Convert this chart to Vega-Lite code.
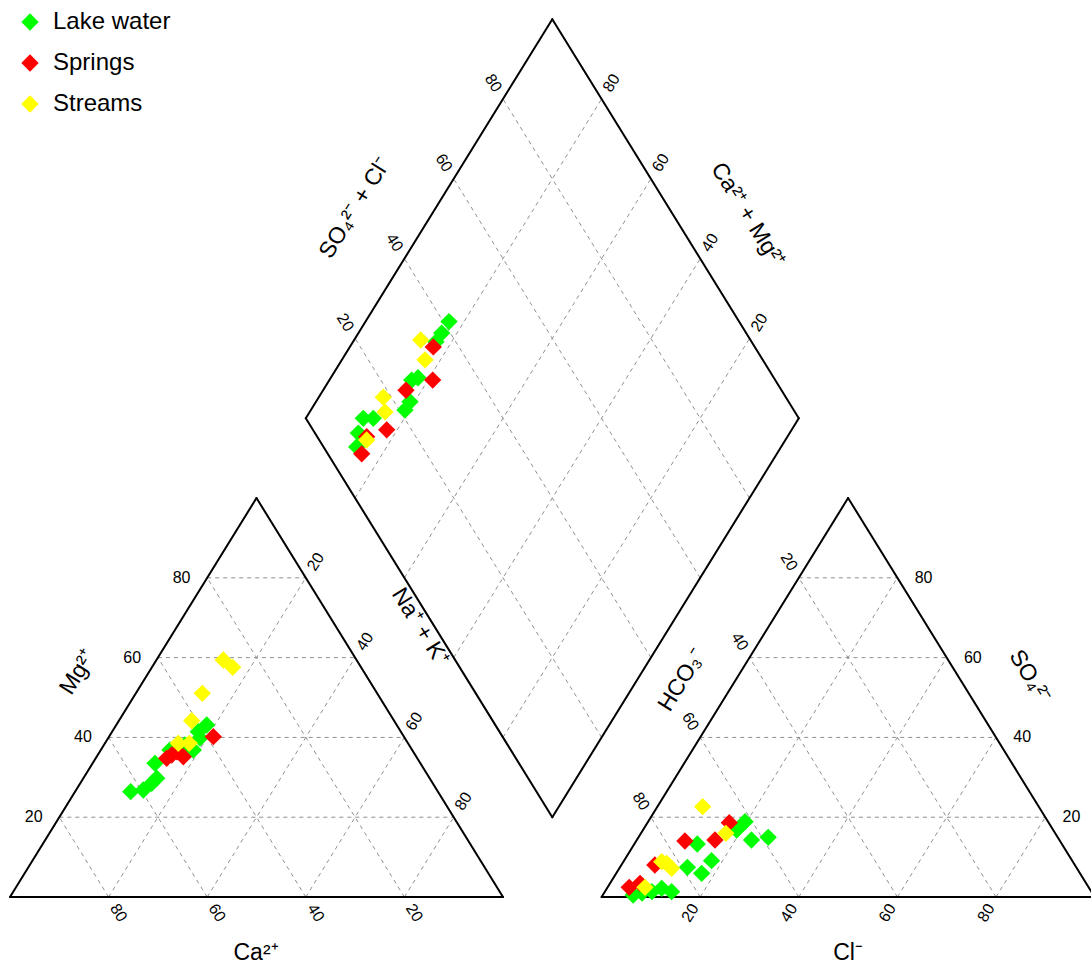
{
  "$schema": "https://vega.github.io/schema/vega-lite/v6.json",
  "width": 1091,
  "height": 968,
  "autosize": "none",
  "padding": 0,
  "background": "white",
  "config": {"view": {"stroke": null}, "font": "Liberation Sans"},
  "datasets": {
    "frame": [
      {"shape": "cation", "x": 0, "y": 0, "x2": 100, "y2": 0},
      {"shape": "cation", "x": 0, "y": 0, "x2": 50, "y2": 86.603},
      {"shape": "cation", "x": 100, "y": 0, "x2": 50, "y2": 86.603},
      {"shape": "anion", "x": 120, "y": 0, "x2": 220, "y2": 0},
      {"shape": "anion", "x": 120, "y": 0, "x2": 170, "y2": 86.603},
      {"shape": "anion", "x": 220, "y": 0, "x2": 170, "y2": 86.603},
      {"shape": "diamond", "x": 110, "y": 17.32, "x2": 60, "y2": 103.92},
      {"shape": "diamond", "x": 60, "y": 103.92, "x2": 110, "y2": 190.53},
      {"shape": "diamond", "x": 110, "y": 190.53, "x2": 160, "y2": 103.92},
      {"shape": "diamond", "x": 160, "y": 103.92, "x2": 110, "y2": 17.32}
    ],
    "grid": [
      {"family": "Mg", "x": 10, "y": 17.32, "x2": 90, "y2": 17.32},
      {"family": "Mg", "x": 20, "y": 34.64, "x2": 80, "y2": 34.64},
      {"family": "Mg", "x": 30, "y": 51.96, "x2": 70, "y2": 51.96},
      {"family": "Mg", "x": 40, "y": 69.28, "x2": 60, "y2": 69.28},
      {"family": "Ca", "x": 80, "y": 0, "x2": 40, "y2": 69.28},
      {"family": "Ca", "x": 60, "y": 0, "x2": 30, "y2": 51.96},
      {"family": "Ca", "x": 40, "y": 0, "x2": 20, "y2": 34.64},
      {"family": "Ca", "x": 20, "y": 0, "x2": 10, "y2": 17.32},
      {"family": "NaK", "x": 20, "y": 0, "x2": 60, "y2": 69.28},
      {"family": "NaK", "x": 40, "y": 0, "x2": 70, "y2": 51.96},
      {"family": "NaK", "x": 60, "y": 0, "x2": 80, "y2": 34.64},
      {"family": "NaK", "x": 80, "y": 0, "x2": 90, "y2": 17.32},
      {"family": "SO4", "x": 130, "y": 17.32, "x2": 210, "y2": 17.32},
      {"family": "SO4", "x": 140, "y": 34.64, "x2": 200, "y2": 34.64},
      {"family": "SO4", "x": 150, "y": 51.96, "x2": 190, "y2": 51.96},
      {"family": "SO4", "x": 160, "y": 69.28, "x2": 180, "y2": 69.28},
      {"family": "Cl", "x": 140, "y": 0, "x2": 180, "y2": 69.28},
      {"family": "Cl", "x": 160, "y": 0, "x2": 190, "y2": 51.96},
      {"family": "Cl", "x": 180, "y": 0, "x2": 200, "y2": 34.64},
      {"family": "Cl", "x": 200, "y": 0, "x2": 210, "y2": 17.32},
      {"family": "HCO3", "x": 200, "y": 0, "x2": 160, "y2": 69.28},
      {"family": "HCO3", "x": 180, "y": 0, "x2": 150, "y2": 51.96},
      {"family": "HCO3", "x": 160, "y": 0, "x2": 140, "y2": 34.64},
      {"family": "HCO3", "x": 140, "y": 0, "x2": 130, "y2": 17.32},
      {"family": "SO4Cl", "x": 120, "y": 34.64, "x2": 70, "y2": 121.24},
      {"family": "SO4Cl", "x": 130, "y": 51.96, "x2": 80, "y2": 138.56},
      {"family": "SO4Cl", "x": 140, "y": 69.28, "x2": 90, "y2": 155.88},
      {"family": "SO4Cl", "x": 150, "y": 86.6, "x2": 100, "y2": 173.2},
      {"family": "CaMg", "x": 100, "y": 34.64, "x2": 150, "y2": 121.24},
      {"family": "CaMg", "x": 90, "y": 51.96, "x2": 140, "y2": 138.56},
      {"family": "CaMg", "x": 80, "y": 69.28, "x2": 130, "y2": 155.88},
      {"family": "CaMg", "x": 70, "y": 86.6, "x2": 120, "y2": 173.2}
    ],
    "labels": [
      {"kind": "tick", "axis": "Ca", "label": "80", "x": 22, "y": -3.46},
      {"kind": "tick", "axis": "Ca", "label": "60", "x": 42, "y": -3.46},
      {"kind": "tick", "axis": "Ca", "label": "40", "x": 62, "y": -3.46},
      {"kind": "tick", "axis": "Ca", "label": "20", "x": 82, "y": -3.46},
      {"kind": "tick", "axis": "Mg", "label": "80", "x": 34.8, "y": 69.28},
      {"kind": "tick", "axis": "Mg", "label": "60", "x": 24.8, "y": 51.96},
      {"kind": "tick", "axis": "Mg", "label": "40", "x": 14.8, "y": 34.64},
      {"kind": "tick", "axis": "Mg", "label": "20", "x": 4.8, "y": 17.32},
      {"kind": "tick", "axis": "NaK", "label": "20", "x": 62, "y": 72.74},
      {"kind": "tick", "axis": "NaK", "label": "40", "x": 72, "y": 55.42},
      {"kind": "tick", "axis": "NaK", "label": "60", "x": 82, "y": 38.1},
      {"kind": "tick", "axis": "NaK", "label": "80", "x": 92, "y": 20.78},
      {"kind": "tick", "axis": "Cl", "label": "20", "x": 138, "y": -3.46},
      {"kind": "tick", "axis": "Cl", "label": "40", "x": 158, "y": -3.46},
      {"kind": "tick", "axis": "Cl", "label": "60", "x": 178, "y": -3.46},
      {"kind": "tick", "axis": "Cl", "label": "80", "x": 198, "y": -3.46},
      {"kind": "tick", "axis": "SO4", "label": "80", "x": 185.3, "y": 69.28},
      {"kind": "tick", "axis": "SO4", "label": "60", "x": 195.3, "y": 51.96},
      {"kind": "tick", "axis": "SO4", "label": "40", "x": 205.3, "y": 34.64},
      {"kind": "tick", "axis": "SO4", "label": "20", "x": 215.3, "y": 17.32},
      {"kind": "tick", "axis": "HCO3", "label": "20", "x": 158, "y": 72.74},
      {"kind": "tick", "axis": "HCO3", "label": "40", "x": 148, "y": 55.42},
      {"kind": "tick", "axis": "HCO3", "label": "60", "x": 138, "y": 38.1},
      {"kind": "tick", "axis": "HCO3", "label": "80", "x": 128, "y": 20.78},
      {"kind": "tick", "axis": "SO4Cl", "label": "20", "x": 68, "y": 124.7},
      {"kind": "tick", "axis": "SO4Cl", "label": "40", "x": 78, "y": 142.02},
      {"kind": "tick", "axis": "SO4Cl", "label": "60", "x": 88, "y": 159.34},
      {"kind": "tick", "axis": "SO4Cl", "label": "80", "x": 98, "y": 176.66},
      {"kind": "tick", "axis": "CaMg", "label": "20", "x": 152, "y": 124.7},
      {"kind": "tick", "axis": "CaMg", "label": "40", "x": 142, "y": 142.02},
      {"kind": "tick", "axis": "CaMg", "label": "60", "x": 132, "y": 159.34},
      {"kind": "tick", "axis": "CaMg", "label": "80", "x": 122, "y": 176.66},
      {"kind": "title", "axis": "Mg", "label": "Mg²⁺", "x": 13.8, "y": 48.8},
      {"kind": "title", "axis": "Ca", "label": "Ca²⁺", "x": 49.9, "y": -12.2},
      {"kind": "title", "axis": "NaK", "label": "Na⁺ + K⁺", "x": 83.2, "y": 58.6},
      {"kind": "title", "axis": "HCO3", "label": "HCO₃⁻", "x": 136.3, "y": 47.1},
      {"kind": "title", "axis": "SO4", "label": "SO₄²⁻", "x": 206.9, "y": 47.8},
      {"kind": "title", "axis": "Cl", "label": "Cl⁻", "x": 170, "y": -12.2},
      {"kind": "title", "axis": "SO4Cl", "label": "SO₄²⁻ + Cl⁻", "x": 70, "y": 149.6},
      {"kind": "title", "axis": "CaMg", "label": "Ca²⁺ + Mg²⁺", "x": 149.7, "y": 148.0}
    ],
    "samples": [
      {"group": "Lake water", "panel": "cation", "x": 39.9, "y": 37.33},
      {"group": "Lake water", "panel": "cation", "x": 38.19, "y": 35.88},
      {"group": "Lake water", "panel": "cation", "x": 38.54, "y": 34.5},
      {"group": "Lake water", "panel": "cation", "x": 37.18, "y": 31.91},
      {"group": "Lake water", "panel": "cation", "x": 35.5, "y": 33.0},
      {"group": "Lake water", "panel": "cation", "x": 32.45, "y": 31.91},
      {"group": "Lake water", "panel": "cation", "x": 29.41, "y": 29.02},
      {"group": "Lake water", "panel": "cation", "x": 29.76, "y": 25.77},
      {"group": "Lake water", "panel": "cation", "x": 28.74, "y": 24.68},
      {"group": "Lake water", "panel": "cation", "x": 27.04, "y": 23.23},
      {"group": "Lake water", "panel": "cation", "x": 24.48, "y": 22.86},
      {"group": "Lake water", "panel": "anion", "x": 149.1, "y": 16.34},
      {"group": "Lake water", "panel": "anion", "x": 147.4, "y": 14.54},
      {"group": "Lake water", "panel": "anion", "x": 150.4, "y": 12.37},
      {"group": "Lake water", "panel": "anion", "x": 153.8, "y": 12.96},
      {"group": "Lake water", "panel": "anion", "x": 139.4, "y": 11.5},
      {"group": "Lake water", "panel": "anion", "x": 142.3, "y": 7.88},
      {"group": "Lake water", "panel": "anion", "x": 137.4, "y": 6.45},
      {"group": "Lake water", "panel": "anion", "x": 140.3, "y": 5.14},
      {"group": "Lake water", "panel": "anion", "x": 126.4, "y": 0.43},
      {"group": "Lake water", "panel": "anion", "x": 128.2, "y": 0.87},
      {"group": "Lake water", "panel": "anion", "x": 130.2, "y": 1.15},
      {"group": "Lake water", "panel": "anion", "x": 132.2, "y": 1.89},
      {"group": "Lake water", "panel": "anion", "x": 134.2, "y": 1.15},
      {"group": "Lake water", "panel": "diamond", "x": 89.05, "y": 124.9},
      {"group": "Lake water", "panel": "diamond", "x": 87.57, "y": 122.4},
      {"group": "Lake water", "panel": "diamond", "x": 86.41, "y": 120.5},
      {"group": "Lake water", "panel": "diamond", "x": 81.48, "y": 112.2},
      {"group": "Lake water", "panel": "diamond", "x": 82.76, "y": 112.7},
      {"group": "Lake water", "panel": "diamond", "x": 81.14, "y": 107.5},
      {"group": "Lake water", "panel": "diamond", "x": 80.12, "y": 105.7},
      {"group": "Lake water", "panel": "diamond", "x": 71.66, "y": 103.9},
      {"group": "Lake water", "panel": "diamond", "x": 73.69, "y": 103.9},
      {"group": "Lake water", "panel": "diamond", "x": 70.65, "y": 100.7},
      {"group": "Lake water", "panel": "diamond", "x": 70.32, "y": 97.7},
      {"group": "Springs", "panel": "cation", "x": 41.24, "y": 34.8},
      {"group": "Springs", "panel": "cation", "x": 31.78, "y": 30.1},
      {"group": "Springs", "panel": "cation", "x": 32.8, "y": 30.82},
      {"group": "Springs", "panel": "cation", "x": 33.87, "y": 31.5},
      {"group": "Springs", "panel": "cation", "x": 35.15, "y": 30.45},
      {"group": "Springs", "panel": "anion", "x": 145.9, "y": 16.13},
      {"group": "Springs", "panel": "anion", "x": 136.9, "y": 12.16},
      {"group": "Springs", "panel": "anion", "x": 143.0, "y": 12.37},
      {"group": "Springs", "panel": "anion", "x": 130.8, "y": 6.95},
      {"group": "Springs", "panel": "anion", "x": 125.6, "y": 2.1},
      {"group": "Springs", "panel": "anion", "x": 127.8, "y": 2.97},
      {"group": "Springs", "panel": "diamond", "x": 85.86, "y": 119.4},
      {"group": "Springs", "panel": "diamond", "x": 85.74, "y": 112.2},
      {"group": "Springs", "panel": "diamond", "x": 80.32, "y": 110.0},
      {"group": "Springs", "panel": "diamond", "x": 76.41, "y": 101.4},
      {"group": "Springs", "panel": "diamond", "x": 72.35, "y": 99.9},
      {"group": "Springs", "panel": "diamond", "x": 71.34, "y": 96.2},
      {"group": "Streams", "panel": "cation", "x": 43.27, "y": 51.44},
      {"group": "Streams", "panel": "cation", "x": 45.17, "y": 49.86},
      {"group": "Streams", "panel": "cation", "x": 39.0, "y": 44.2},
      {"group": "Streams", "panel": "cation", "x": 36.86, "y": 38.26},
      {"group": "Streams", "panel": "cation", "x": 34.14, "y": 33.36},
      {"group": "Streams", "panel": "cation", "x": 36.37, "y": 33.36},
      {"group": "Streams", "panel": "anion", "x": 140.5, "y": 19.6},
      {"group": "Streams", "panel": "anion", "x": 145.2, "y": 13.83},
      {"group": "Streams", "panel": "anion", "x": 133.2, "y": 7.31},
      {"group": "Streams", "panel": "anion", "x": 132.2, "y": 7.66},
      {"group": "Streams", "panel": "anion", "x": 134.2, "y": 6.23},
      {"group": "Streams", "panel": "anion", "x": 128.8, "y": 2.1},
      {"group": "Streams", "panel": "diamond", "x": 83.31, "y": 120.9},
      {"group": "Streams", "panel": "diamond", "x": 84.18, "y": 116.6},
      {"group": "Streams", "panel": "diamond", "x": 75.72, "y": 108.5},
      {"group": "Streams", "panel": "diamond", "x": 76.06, "y": 105.3},
      {"group": "Streams", "panel": "diamond", "x": 72.35, "y": 99.2}
    ]
  },
  "resolve": {"scale": {"x": "shared", "y": "shared"}},
  "layer": [
    {
      "data": {"name": "grid"},
      "mark": {"type": "rule", "stroke": "#909090", "strokeWidth": 1, "strokeDash": [4, 4]},
      "encoding": {
        "x": {"field": "x", "type": "quantitative", "scale": {"domain": [-2.028, 219.27], "nice": false, "zero": false}, "axis": null},
        "y": {"field": "y", "type": "quantitative", "scale": {"domain": [-15.41, 194.7], "nice": false, "zero": false}, "axis": null},
        "x2": {"field": "x2"},
        "y2": {"field": "y2"}
      }
    },
    {
      "data": {"name": "frame"},
      "mark": {"type": "rule", "stroke": "black", "strokeWidth": 2, "strokeCap": "round"},
      "encoding": {
        "x": {"field": "x", "type": "quantitative", "axis": null},
        "y": {"field": "y", "type": "quantitative", "axis": null},
        "x2": {"field": "x2"},
        "y2": {"field": "y2"}
      }
    },
    {
      "data": {"name": "labels"},
      "transform": [{"filter": {"and": [{"field": "kind", "equal": "tick"}, {"field": "axis", "oneOf": ["Mg", "SO4"]}]}}],
      "mark": {"type": "text", "fontSize": 16, "align": "center", "baseline": "middle", "color": "black"},
      "encoding": {
        "x": {"field": "x", "type": "quantitative", "axis": null},
        "y": {"field": "y", "type": "quantitative", "axis": null},
        "text": {"field": "label"}
      }
    },
    {
      "data": {"name": "labels"},
      "transform": [{"filter": {"and": [{"field": "kind", "equal": "tick"}, {"field": "axis", "oneOf": ["Ca", "HCO3", "SO4Cl"]}]}}],
      "mark": {"type": "text", "fontSize": 16, "align": "center", "baseline": "middle", "angle": 58, "color": "black"},
      "encoding": {
        "x": {"field": "x", "type": "quantitative", "axis": null},
        "y": {"field": "y", "type": "quantitative", "axis": null},
        "text": {"field": "label"}
      }
    },
    {
      "data": {"name": "labels"},
      "transform": [{"filter": {"and": [{"field": "kind", "equal": "tick"}, {"field": "axis", "oneOf": ["NaK", "Cl", "CaMg"]}]}}],
      "mark": {"type": "text", "fontSize": 16, "align": "center", "baseline": "middle", "angle": -58, "color": "black"},
      "encoding": {
        "x": {"field": "x", "type": "quantitative", "axis": null},
        "y": {"field": "y", "type": "quantitative", "axis": null},
        "text": {"field": "label"}
      }
    },
    {
      "data": {"name": "labels"},
      "transform": [{"filter": {"and": [{"field": "kind", "equal": "title"}, {"field": "axis", "oneOf": ["Ca", "Cl"]}]}}],
      "mark": {"type": "text", "fontSize": 23, "align": "center", "baseline": "middle", "color": "black"},
      "encoding": {
        "x": {"field": "x", "type": "quantitative", "axis": null},
        "y": {"field": "y", "type": "quantitative", "axis": null},
        "text": {"field": "label"}
      }
    },
    {
      "data": {"name": "labels"},
      "transform": [{"filter": {"and": [{"field": "kind", "equal": "title"}, {"field": "axis", "oneOf": ["Mg", "HCO3", "SO4Cl"]}]}}],
      "mark": {"type": "text", "fontSize": 23, "align": "center", "baseline": "middle", "angle": -58, "color": "black"},
      "encoding": {
        "x": {"field": "x", "type": "quantitative", "axis": null},
        "y": {"field": "y", "type": "quantitative", "axis": null},
        "text": {"field": "label"}
      }
    },
    {
      "data": {"name": "labels"},
      "transform": [{"filter": {"and": [{"field": "kind", "equal": "title"}, {"field": "axis", "oneOf": ["NaK", "SO4", "CaMg"]}]}}],
      "mark": {"type": "text", "fontSize": 23, "align": "center", "baseline": "middle", "angle": 58, "color": "black"},
      "encoding": {
        "x": {"field": "x", "type": "quantitative", "axis": null},
        "y": {"field": "y", "type": "quantitative", "axis": null},
        "text": {"field": "label"}
      }
    },
    {
      "data": {"name": "samples"},
      "mark": {"type": "point", "shape": "diamond", "filled": true, "size": 300, "opacity": 1, "strokeWidth": 0},
      "encoding": {
        "x": {"field": "x", "type": "quantitative", "axis": null},
        "y": {"field": "y", "type": "quantitative", "axis": null},
        "color": {
          "field": "group",
          "type": "nominal",
          "scale": {"domain": ["Lake water", "Springs", "Streams"], "range": ["#00ff00", "#ff0000", "#ffff00"]},
          "legend": {
            "orient": "none",
            "legendX": 18,
            "legendY": 10,
            "title": null,
            "padding": 0,
            "symbolType": "diamond",
            "symbolSize": 300,
            "symbolStrokeWidth": 0,
            "symbolOpacity": 1,
            "labelFontSize": 24,
            "labelFont": "Liberation Sans",
            "labelColor": "black",
            "labelOffset": 11,
            "rowPadding": 17
          }
        }
      }
    }
  ]
}
